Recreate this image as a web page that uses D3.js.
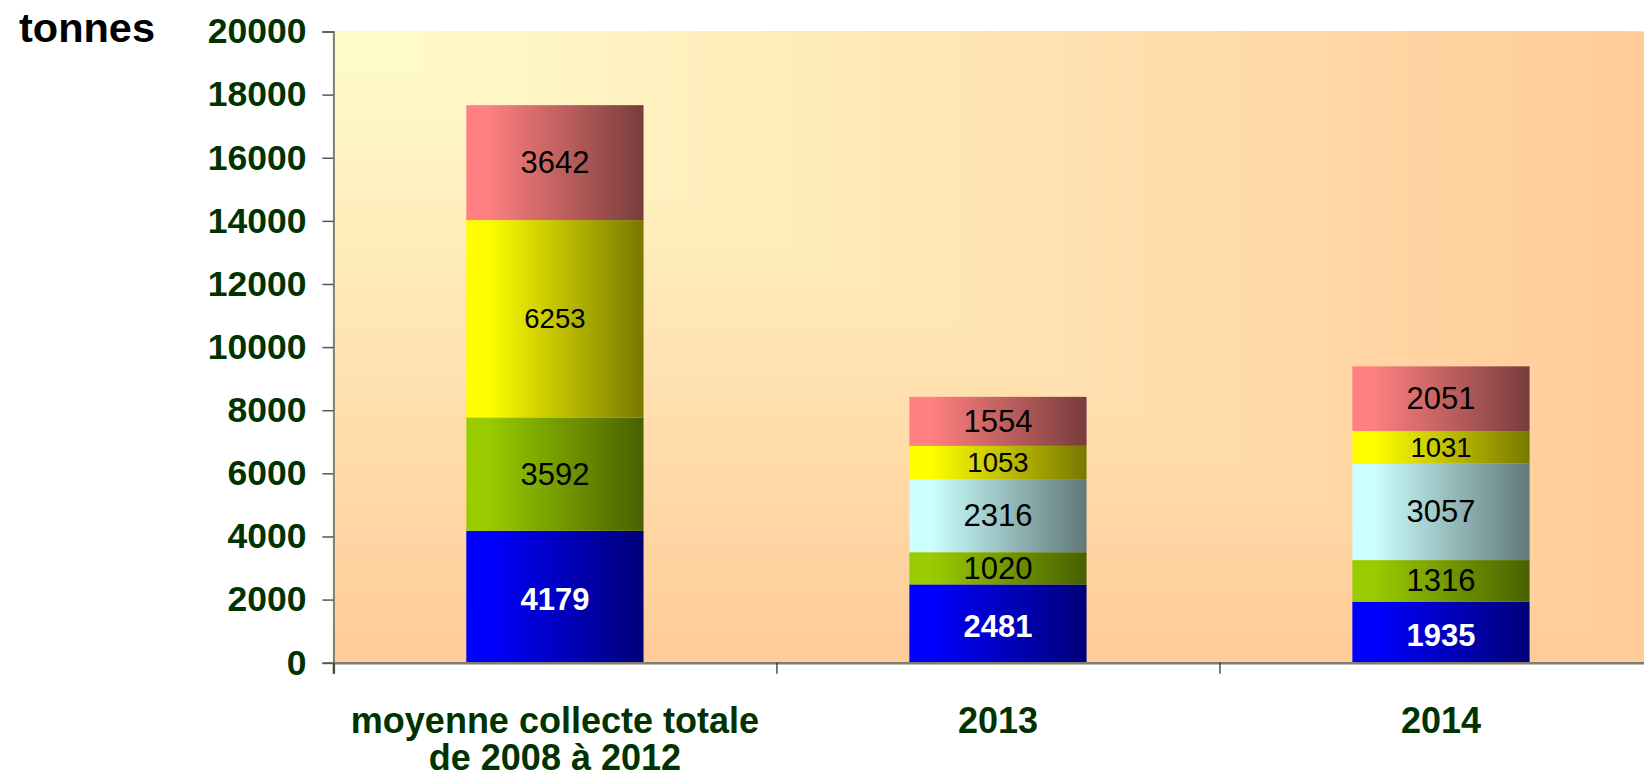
<!DOCTYPE html>
<html>
<head>
<meta charset="utf-8">
<script src="https://cdn.jsdelivr.net/npm/d3@7"></script>
<style>
  html, body { margin: 0; padding: 0; background: #ffffff; }
  svg { display: block; }
  text { font-family: "Liberation Sans", Arial, sans-serif; }
</style>
</head>
<body>
<svg id="chart" width="1644" height="777"></svg>
<script>
// ---------- data ----------
const categories = ["moyenne collecte totale\nde 2008 à 2012", "2013", "2014"];
const seriesNames = ["bleu", "vert", "cyan", "jaune", "rouge"];
const serieBleu  = [4179, 2481, 1935];
const serieVert  = [3592, 1020, 1316];
const serieCyan  = [0, 2316, 3057];
const serieJaune = [6253, 1053, 1031];
const serieRouge = [3642, 1554, 2051];
const yTicks = [0, 2000, 4000, 6000, 8000, 10000, 12000, 14000, 16000, 18000, 20000];
const yUnit = "tonnes";

// ---------- styles ----------
const seriesValues = [serieBleu, serieVert, serieCyan, serieJaune, serieRouge];
const seriesColors = ["#0000FF", "#99CC00", "#CCFFFF", "#FFFF00", "#FF8080"];
const darkFactor = 0.47;
const labelFill = ["#ffffff", "#000000", "#000000", "#000000", "#000000"];
const labelWeight = ["bold", "normal", "normal", "normal", "normal"];
const labelSize = [31, 31, 31, 27.5, 31];
const textGreen = "#003300";

const svg = d3.select("#chart");
const W = 1644, H = 777;
const plot = { left: 333.4, right: 1662.5, top: 31.5, bottom: 662.7 };

const x = d3.scaleBand().domain(categories).range([plot.left, plot.right])
  .paddingInner(0.6).paddingOuter(0.3);
const y = d3.scaleLinear().domain([0, 20000]).range([plot.bottom, plot.top]);

const defs = svg.append("defs");

// gradients for bars
seriesColors.forEach((c, i) => {
  const base = d3.rgb(c);
  const dark = d3.rgb(base.r * darkFactor, base.g * darkFactor, base.b * darkFactor);
  const g = defs.append("linearGradient").attr("id", "grad" + i)
    .attr("x1", "0").attr("y1", "0").attr("x2", "1").attr("y2", "0");
  g.append("stop").attr("offset", "0").attr("stop-color", base.formatHex());
  g.append("stop").attr("offset", "0.12").attr("stop-color", base.formatHex());
  g.append("stop").attr("offset", "1").attr("stop-color", dark.formatHex());
});

// background: rectangular "from corner" gradient
const bgColor = d3.interpolateRgb("#FFFDCC", "#FFCB98");
const clip = defs.append("clipPath").attr("id", "plotclip");
clip.append("rect").attr("x", plot.left).attr("y", plot.top)
  .attr("width", W - plot.left).attr("height", plot.bottom - plot.top);
const bg = svg.append("g").attr("clip-path", "url(#plotclip)");
const steps = d3.range(240, -1, -1).map(k => k / 240);
bg.selectAll("rect").data(steps).join("rect")
  .attr("x", plot.left).attr("y", plot.top)
  .attr("width", t => Math.max(0, t * (plot.right - plot.left)))
  .attr("height", t => Math.max(0, t * (plot.bottom - plot.top)))
  .attr("fill", t => bgColor(t));

// stacked data
const stackData = categories.map((c, j) => {
  const o = { cat: c };
  seriesNames.forEach((s, i) => { o[s] = seriesValues[i][j]; });
  return o;
});
const stacked = d3.stack().keys(seriesNames)(stackData);

const barsG = svg.append("g");
stacked.forEach((layer, i) => {
  const g = barsG.append("g");
  g.selectAll("rect").data(layer.filter(d => d[1] - d[0] > 0)).join("rect")
    .attr("x", d => x(d.data.cat))
    .attr("width", x.bandwidth())
    .attr("y", d => y(d[1]))
    .attr("height", d => y(d[0]) - y(d[1]))
    .attr("fill", "url(#grad" + i + ")");
  g.selectAll("text").data(layer.filter(d => d[1] - d[0] > 0)).join("text")
    .attr("x", d => x(d.data.cat) + x.bandwidth() / 2)
    .attr("y", d => (y(d[0]) + y(d[1])) / 2 + (i === 0 ? 3 : 0))
    .attr("text-anchor", "middle")
    .attr("dominant-baseline", "central")
    .attr("font-size", labelSize[i])
    .attr("font-weight", labelWeight[i])
    .attr("fill", labelFill[i])
    .text(d => d[1] - d[0]);
});

// y axis
const yAxis = svg.append("g").attr("transform", `translate(${plot.left},0)`)
  .call(d3.axisLeft(y).tickValues(yTicks).tickSize(11).tickPadding(16).tickFormat(d3.format("d")));
yAxis.select(".domain").attr("stroke", "#7f7f70").attr("stroke-width", 2);
yAxis.selectAll(".tick line").attr("stroke", "#555555").attr("stroke-width", 1.5);
yAxis.selectAll(".tick text").attr("font-size", 35.5).attr("font-weight", "bold")
  .attr("fill", textGreen).attr("font-family", "'Liberation Sans', Arial, sans-serif");

// x axis (boundary ticks)
const xb = d3.scaleLinear().domain([0, categories.length]).range([plot.left, plot.right]);
const xAxis = svg.append("g").attr("transform", `translate(0,${plot.bottom})`)
  .call(d3.axisBottom(xb).tickValues(d3.range(0, categories.length + 1)).tickSize(11).tickFormat(""));
xAxis.select(".domain").attr("stroke", "#7f7f70").attr("stroke-width", 2.5);
xAxis.selectAll(".tick line").attr("stroke", "#222222").attr("stroke-width", 1.2);

// x labels
const xl = svg.append("g");
categories.forEach(c => {
  const lines = c.split("\n");
  const t = xl.append("text")
    .attr("x", x(c) + x.bandwidth() / 2)
    .attr("y", 733)
    .attr("text-anchor", "middle")
    .attr("font-size", 36).attr("font-weight", "bold").attr("fill", textGreen);
  lines.forEach((ln, k) => {
    t.append("tspan").attr("x", x(c) + x.bandwidth() / 2).attr("dy", k === 0 ? 0 : 37).text(ln);
  });
});

// unit
svg.append("text").attr("x", 19).attr("y", 42)
  .attr("font-size", 41.5).attr("font-weight", "bold").attr("fill", "#000000")
  .text(yUnit);
</script>
</body>
</html>
